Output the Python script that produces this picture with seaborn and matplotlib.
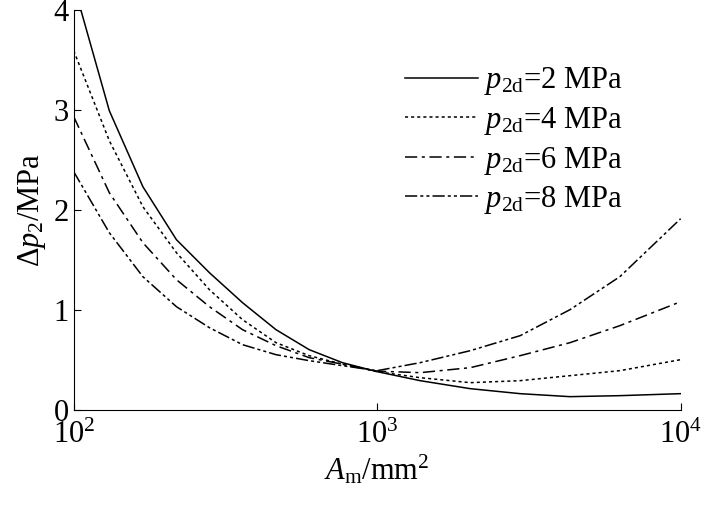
import matplotlib
matplotlib.use("Agg")
import matplotlib.pyplot as plt
import seaborn as sns
import pandas as pd

area = [100, 131, 169, 218, 280, 360, 464, 597, 768, 1000, 1385, 2026, 2958, 4318, 6303, 10000]
p2 = [4.25, 2.99, 2.23, 1.70, 1.37, 1.07, 0.80, 0.60, 0.47, 0.38, 0.29, 0.21, 0.16, 0.13, 0.14, 0.16]
p4 = [3.59, 2.69, 2.03, 1.57, 1.20, 0.90, 0.67, 0.54, 0.455, 0.38, 0.32, 0.27, 0.29, 0.34, 0.39, 0.50]
p6 = [2.93, 2.17, 1.67, 1.30, 1.03, 0.80, 0.64, 0.52, 0.455, 0.385, 0.37, 0.42, 0.54, 0.67, 0.84, 1.08]
p8 = [2.38, 1.77, 1.33, 1.03, 0.82, 0.65, 0.55, 0.49, 0.44, 0.39, 0.47, 0.59, 0.74, 1.00, 1.33, 1.91]
labels = [r"$p_{\rm 2d}$=2 MPa", r"$p_{\rm 2d}$=4 MPa", r"$p_{\rm 2d}$=6 MPa", r"$p_{\rm 2d}$=8 MPa"]
styles = ["-", (0, (2, 2)), (0, (8, 3, 2, 3)), (0, (8, 2, 2, 2, 2, 2))]

plt.rcParams["font.family"] = "Liberation Serif"
plt.rcParams["mathtext.fontset"] = "custom"
plt.rcParams["mathtext.rm"] = "Liberation Serif"
plt.rcParams["mathtext.it"] = "Liberation Serif:italic"

fig = plt.figure(figsize=(7.09, 5.14), dpi=100)
ax = fig.add_axes([0.104, 0.203, 0.856, 0.778])
for vals, lab, ls in zip([p2, p4, p6, p8], labels, styles):
    df = pd.DataFrame({"A": area, "p": vals})
    sns.lineplot(data=df, x="A", y="p", ax=ax, color="black", lw=1.1, linestyle=ls, label=lab)
ax.set_xscale("log")
ax.set_xlim(100, 10000)
ax.set_ylim(0, 4)
ax.set_yticks([0, 1, 2, 3, 4])
for s in ["top", "right"]:
    ax.spines[s].set_visible(False)
ax.tick_params(direction="in", labelsize=22, length=5)
ax.tick_params(axis="x", pad=8)
ax.tick_params(which="minor", length=0)
ax.set_xlabel(r"$A_{\rm m}$/mm$^2$", fontsize=22, labelpad=2)
ax.set_ylabel(r"$\Delta p_2$/MPa", fontsize=22, labelpad=4)
leg = ax.legend(frameon=False, fontsize=22, loc="upper right", bbox_to_anchor=(0.95, 0.93),
                handlelength=2.4, handletextpad=0.2, labelspacing=0.25)
fig.savefig("out.png", dpi=100)
